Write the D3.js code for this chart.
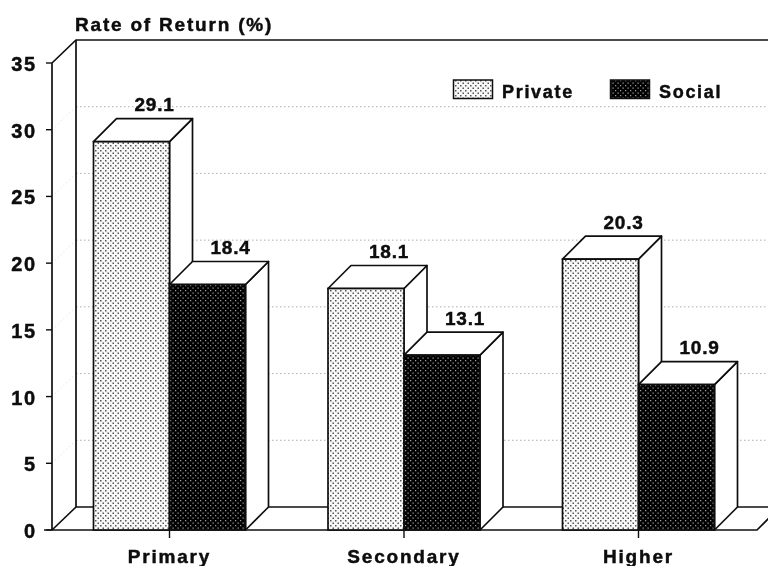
<!DOCTYPE html>
<html><head><meta charset="utf-8">
<script src="https://cdn.jsdelivr.net/npm/d3@7"></script>
<style>html,body{margin:0;padding:0;background:#fff}svg{display:block}
text{font-family:"Liberation Sans",Arial,sans-serif;font-weight:bold;fill:#0a0a0a;stroke:#0a0a0a;stroke-width:0.45px}</style>
</head><body><svg id="c" width="768" height="566"></svg>
<script>
const categories = ["Primary","Secondary","Higher"];
const seriesNames = ["Private","Social"];
const privateValues = [29.1,18.1,20.3];
const socialValues = [18.4,13.1,10.9];
const yTicks = [0,5,10,15,20,25,30,35];
const yTitle = "Rate of Return (%)";

const svg = d3.select("#c");
const W = 768;
const ink = "#101010";
const y = d3.scaleLinear().domain([0,35]).range([530,63]);
const xc = d3.scalePoint().domain(categories).range([169.5,638.5]);
const barW = 76;
const xs = d3.scaleBand().domain(seriesNames).range([-barW,barW]);
const depth = 23;
const axisX = 52, frontEnd = 757;

const defs = svg.append("defs");
defs.append("filter").attr("id","soft").attr("x",0).attr("y",0).attr("width","100%").attr("height","100%")
  .append("feGaussianBlur").attr("stdDeviation",0.4);
const tile = 5;
const p1 = defs.append("pattern").attr("id","pLight").attr("patternUnits","userSpaceOnUse").attr("width",tile).attr("height",tile);
p1.append("rect").attr("width",tile).attr("height",tile).attr("fill","#f8f8f8");
[[0,0],[2.5,2.5]].forEach(d=>p1.append("rect").attr("x",d[0]).attr("y",d[1]).attr("width",1.5).attr("height",1.5).attr("fill","#555"));
const p2 = defs.append("pattern").attr("id","pDark").attr("patternUnits","userSpaceOnUse").attr("width",tile).attr("height",tile);
p2.append("rect").attr("width",tile).attr("height",tile).attr("fill","#060606");
[[0,0],[2.5,2.5]].forEach(d=>p2.append("rect").attr("x",d[0]).attr("y",d[1]).attr("width",1.2).attr("height",1.2).attr("fill","#a0a0a0"));
const fills = {Private:"url(#pLight)",Social:"url(#pDark)"};

const root = svg.append("g").attr("filter","url(#soft)");
root.append("rect").attr("width",W).attr("height",566).attr("fill","#fff");

// dotted gridlines: left wall slants and back wall
const gridTicks = yTicks.filter(t=>t>0 && t<35);
root.append("g").selectAll("path").data(gridTicks).join("path")
  .attr("d",t=>`M${axisX},${y(t)}L${axisX+depth+1},${y(t)-depth}`)
  .attr("fill","none").attr("stroke","#ccc").attr("stroke-width",0.8).attr("stroke-dasharray","1 3");
root.append("g").selectAll("path").data(gridTicks).join("path")
  .attr("d",t=>`M${axisX+depth+1},${y(t)-depth}L${W},${y(t)-depth}`)
  .attr("fill","none").attr("stroke","#999").attr("stroke-width",0.8).attr("stroke-dasharray","1.5 2.5");

// walls and floor
const frame = root.append("g").attr("fill","none").attr("stroke",ink).attr("stroke-width",1.7);
frame.append("path").attr("d",`M${axisX},${y(35)}L${axisX+depth+1},${y(35)-depth}L${W},${y(35)-depth}`);
frame.append("path").attr("d",`M${axisX},${y(35)}V${y(0)}`);
frame.append("path").attr("d",`M${axisX+depth+1},${y(35)-depth}V${y(0)-depth}H${W}`);
frame.append("path").attr("d",`M${axisX},${y(0)}L${axisX+depth+1},${y(0)-depth}`);
frame.append("path").attr("d",`M${axisX-8},${y(0)}H${frontEnd}L${frontEnd+depth},${y(0)-depth}`);

// y ticks and labels
root.append("g").selectAll("line").data(yTicks).join("line")
  .attr("x1",axisX-6).attr("x2",axisX).attr("y1",y).attr("y2",y).attr("stroke",ink).attr("stroke-width",1.4);
root.append("g").selectAll("text").data(yTicks).join("text")
  .attr("x",37).attr("y",t=>y(t)+8).attr("text-anchor","end")
  .attr("font-size",20).style("letter-spacing","1.8px").text(t=>t);

// bars
const rows = categories.flatMap((c,i)=>[
  {c,s:"Private",v:privateValues[i]},{c,s:"Social",v:socialValues[i]}]);
const bars = root.append("g").selectAll("g").data(rows).join("g");
bars.append("path")
  .attr("d",d=>{const a=xc(d.c)+xs(d.s),b=a+barW,t=y(d.v),z=y(0);
    return `M${b},${t}L${b+depth},${t-depth}V${z-depth}L${b},${z}Z`;})
  .attr("fill","#fff").attr("stroke",ink).attr("stroke-width",1.7).attr("stroke-linejoin","round");
bars.append("path")
  .attr("d",d=>{const a=xc(d.c)+xs(d.s),b=a+barW,t=y(d.v);
    return `M${a},${t}L${a+depth},${t-depth}H${b+depth}L${b},${t}Z`;})
  .attr("fill","#fff").attr("stroke",ink).attr("stroke-width",1.7).attr("stroke-linejoin","round");
bars.append("rect")
  .attr("x",d=>xc(d.c)+xs(d.s)).attr("width",barW)
  .attr("y",d=>y(d.v)).attr("height",d=>y(0)-y(d.v))
  .attr("fill",d=>fills[d.s]).attr("stroke",ink).attr("stroke-width",1.7);
bars.append("text")
  .attr("x",d=>xc(d.c)+xs(d.s)+barW/2+23).attr("y",d=>y(d.v)-depth-7.5)
  .attr("text-anchor","middle").attr("font-size",19).style("letter-spacing","0.8px").text(d=>d.v.toFixed(1));

// x ticks and labels
root.append("g").selectAll("line").data(categories).join("line")
  .attr("x1",xc).attr("x2",xc).attr("y1",y(0)).attr("y2",y(0)+8).attr("stroke",ink).attr("stroke-width",1.4);
root.append("g").selectAll("text").data(categories).join("text")
  .attr("x",xc).attr("y",563).attr("text-anchor","middle")
  .attr("font-size",19).style("letter-spacing","1.8px").text(d=>d);

// title
root.append("text").attr("x",75).attr("y",31).attr("font-size",19).style("letter-spacing","1.8px").text(yTitle);

// legend
const legendX = d3.scaleOrdinal().domain(seriesNames).range([453.5,610.5]);
const lg = root.append("g").selectAll("g").data(seriesNames).join("g");
lg.append("rect").attr("x",legendX).attr("y",80).attr("width",39).attr("height",18.5)
  .attr("fill",d=>fills[d]).attr("stroke",ink).attr("stroke-width",1.5);
lg.append("text").attr("x",d=>legendX(d)+48.5).attr("y",98)
  .attr("font-size",18).style("letter-spacing","1.7px").text(d=>d);
</script></body></html>
